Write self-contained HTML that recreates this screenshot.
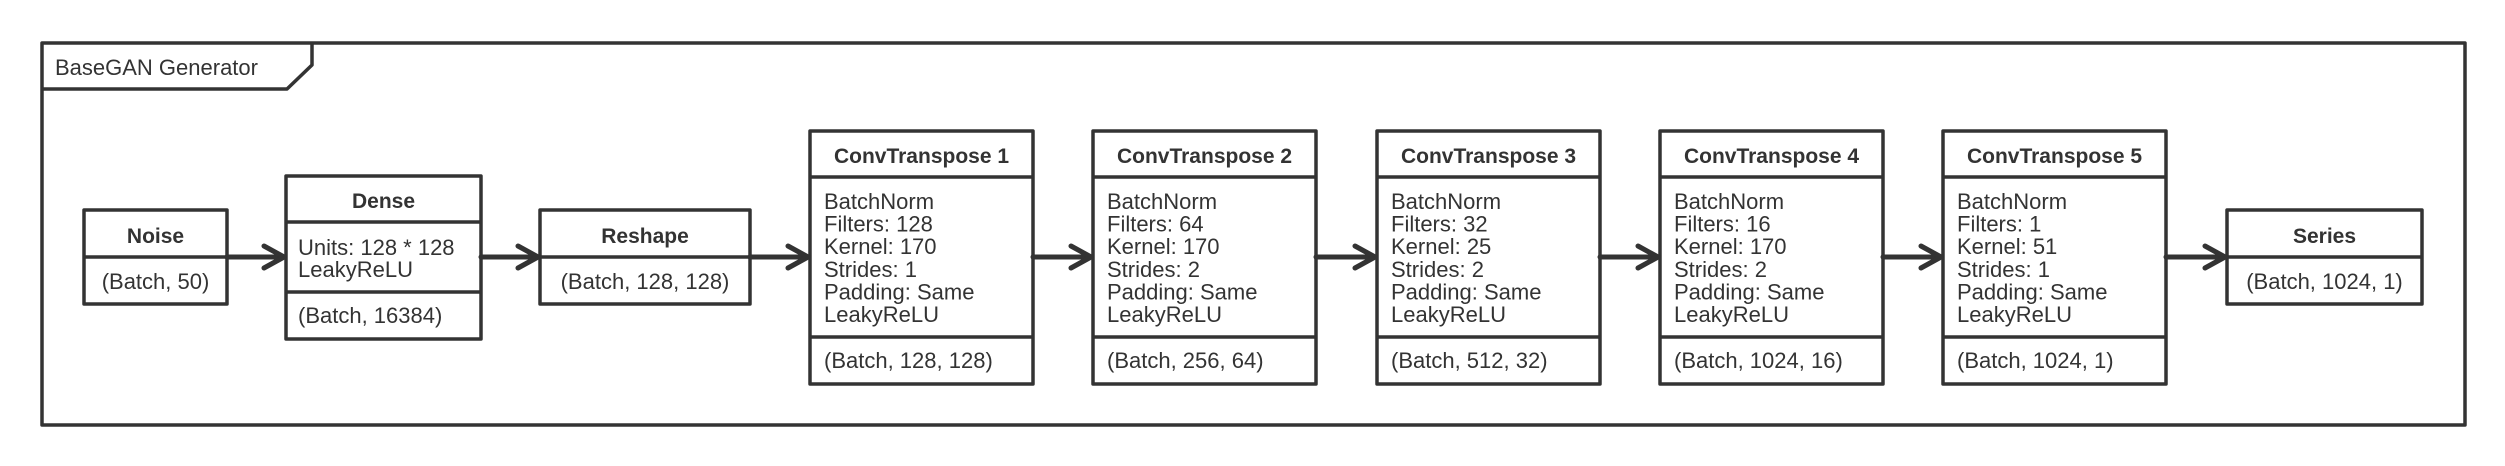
<!DOCTYPE html>
<html><head><meta charset="utf-8"><style>
html,body{margin:0;padding:0;background:#fff;}
svg{display:block;}
text{font-family:"Liberation Sans",Arial,sans-serif;fill:#333;}
.t{font-weight:bold;font-size:21px;text-anchor:middle;}
.b{font-size:22px;}
</style></head><body>
<svg width="2505" height="466" viewBox="0 0 2505 466" xmlns="http://www.w3.org/2000/svg">
<g fill="none" stroke="#333" stroke-width="3.5" stroke-linejoin="round">
<rect x="42" y="43" width="2423" height="382"/>
<polyline points="42,89 287,89 312,65 312,43"/>
<rect x="84" y="210" width="143" height="94" fill="#fff"/><line x1="84" y1="257" x2="227" y2="257"/>
<rect x="286" y="176" width="195" height="163" fill="#fff"/><line x1="286" y1="222" x2="481" y2="222"/><line x1="286" y1="292" x2="481" y2="292"/>
<rect x="540" y="210" width="210" height="94" fill="#fff"/><line x1="540" y1="257" x2="750" y2="257"/>
<rect x="810" y="131" width="223" height="253"/><line x1="810" y1="177" x2="1033" y2="177"/><line x1="810" y1="337" x2="1033" y2="337"/>
<rect x="1093" y="131" width="223" height="253"/><line x1="1093" y1="177" x2="1316" y2="177"/><line x1="1093" y1="337" x2="1316" y2="337"/>
<rect x="1377" y="131" width="223" height="253"/><line x1="1377" y1="177" x2="1600" y2="177"/><line x1="1377" y1="337" x2="1600" y2="337"/>
<rect x="1660" y="131" width="223" height="253"/><line x1="1660" y1="177" x2="1883" y2="177"/><line x1="1660" y1="337" x2="1883" y2="337"/>
<rect x="1943" y="131" width="223" height="253"/><line x1="1943" y1="177" x2="2166" y2="177"/><line x1="1943" y1="337" x2="2166" y2="337"/>
<rect x="2227" y="210" width="195" height="94"/><line x1="2227" y1="257" x2="2422" y2="257"/>
</g>
<g fill="none" stroke="#333" stroke-width="5" stroke-linecap="round" stroke-linejoin="round">
<line x1="227" y1="257" x2="284" y2="257"/><polyline points="264,246 284,257 264,268"/>
<line x1="481" y1="257" x2="538" y2="257"/><polyline points="518,246 538,257 518,268"/>
<line x1="750" y1="257" x2="808" y2="257"/><polyline points="788,246 808,257 788,268"/>
<line x1="1033" y1="257" x2="1091" y2="257"/><polyline points="1071,246 1091,257 1071,268"/>
<line x1="1316" y1="257" x2="1375" y2="257"/><polyline points="1355,246 1375,257 1355,268"/>
<line x1="1600" y1="257" x2="1658" y2="257"/><polyline points="1638,246 1658,257 1638,268"/>
<line x1="1883" y1="257" x2="1941" y2="257"/><polyline points="1921,246 1941,257 1921,268"/>
<line x1="2166" y1="257" x2="2225" y2="257"/><polyline points="2205,246 2225,257 2205,268"/>
</g>
<text class="b" x="55" y="75">BaseGAN Generator</text>
<text class="t" x="155.5" y="243">Noise</text>
<text class="b" x="155.5" y="289" text-anchor="middle">(Batch, 50)</text>
<text class="t" x="383.5" y="208">Dense</text>
<text class="b" x="298" y="255">Units: 128 * 128</text>
<text class="b" x="298" y="277">LeakyReLU</text>
<text class="b" x="298" y="323">(Batch, 16384)</text>
<text class="t" x="645" y="243">Reshape</text>
<text class="b" x="645" y="289" text-anchor="middle">(Batch, 128, 128)</text>

<text class="t" x="921.5" y="163">ConvTranspose 1</text>
<text class="b" x="824" y="209">BatchNorm</text><text class="b" x="824" y="231.6">Filters: 128</text><text class="b" x="824" y="254.2">Kernel: 170</text><text class="b" x="824" y="276.8">Strides: 1</text><text class="b" x="824" y="299.4">Padding: Same</text><text class="b" x="824" y="322">LeakyReLU</text>
<text class="b" x="824" y="368">(Batch, 128, 128)</text>

<text class="t" x="1204.5" y="163">ConvTranspose 2</text>
<text class="b" x="1107" y="209">BatchNorm</text><text class="b" x="1107" y="231.6">Filters: 64</text><text class="b" x="1107" y="254.2">Kernel: 170</text><text class="b" x="1107" y="276.8">Strides: 2</text><text class="b" x="1107" y="299.4">Padding: Same</text><text class="b" x="1107" y="322">LeakyReLU</text>
<text class="b" x="1107" y="368">(Batch, 256, 64)</text>

<text class="t" x="1488.5" y="163">ConvTranspose 3</text>
<text class="b" x="1391" y="209">BatchNorm</text><text class="b" x="1391" y="231.6">Filters: 32</text><text class="b" x="1391" y="254.2">Kernel: 25</text><text class="b" x="1391" y="276.8">Strides: 2</text><text class="b" x="1391" y="299.4">Padding: Same</text><text class="b" x="1391" y="322">LeakyReLU</text>
<text class="b" x="1391" y="368">(Batch, 512, 32)</text>

<text class="t" x="1771.5" y="163">ConvTranspose 4</text>
<text class="b" x="1674" y="209">BatchNorm</text><text class="b" x="1674" y="231.6">Filters: 16</text><text class="b" x="1674" y="254.2">Kernel: 170</text><text class="b" x="1674" y="276.8">Strides: 2</text><text class="b" x="1674" y="299.4">Padding: Same</text><text class="b" x="1674" y="322">LeakyReLU</text>
<text class="b" x="1674" y="368">(Batch, 1024, 16)</text>

<text class="t" x="2054.5" y="163">ConvTranspose 5</text>
<text class="b" x="1957" y="209">BatchNorm</text><text class="b" x="1957" y="231.6">Filters: 1</text><text class="b" x="1957" y="254.2">Kernel: 51</text><text class="b" x="1957" y="276.8">Strides: 1</text><text class="b" x="1957" y="299.4">Padding: Same</text><text class="b" x="1957" y="322">LeakyReLU</text>
<text class="b" x="1957" y="368">(Batch, 1024, 1)</text>

<text class="t" x="2324.5" y="243">Series</text>
<text class="b" x="2324.5" y="289" text-anchor="middle">(Batch, 1024, 1)</text>
</svg>
</body></html>
